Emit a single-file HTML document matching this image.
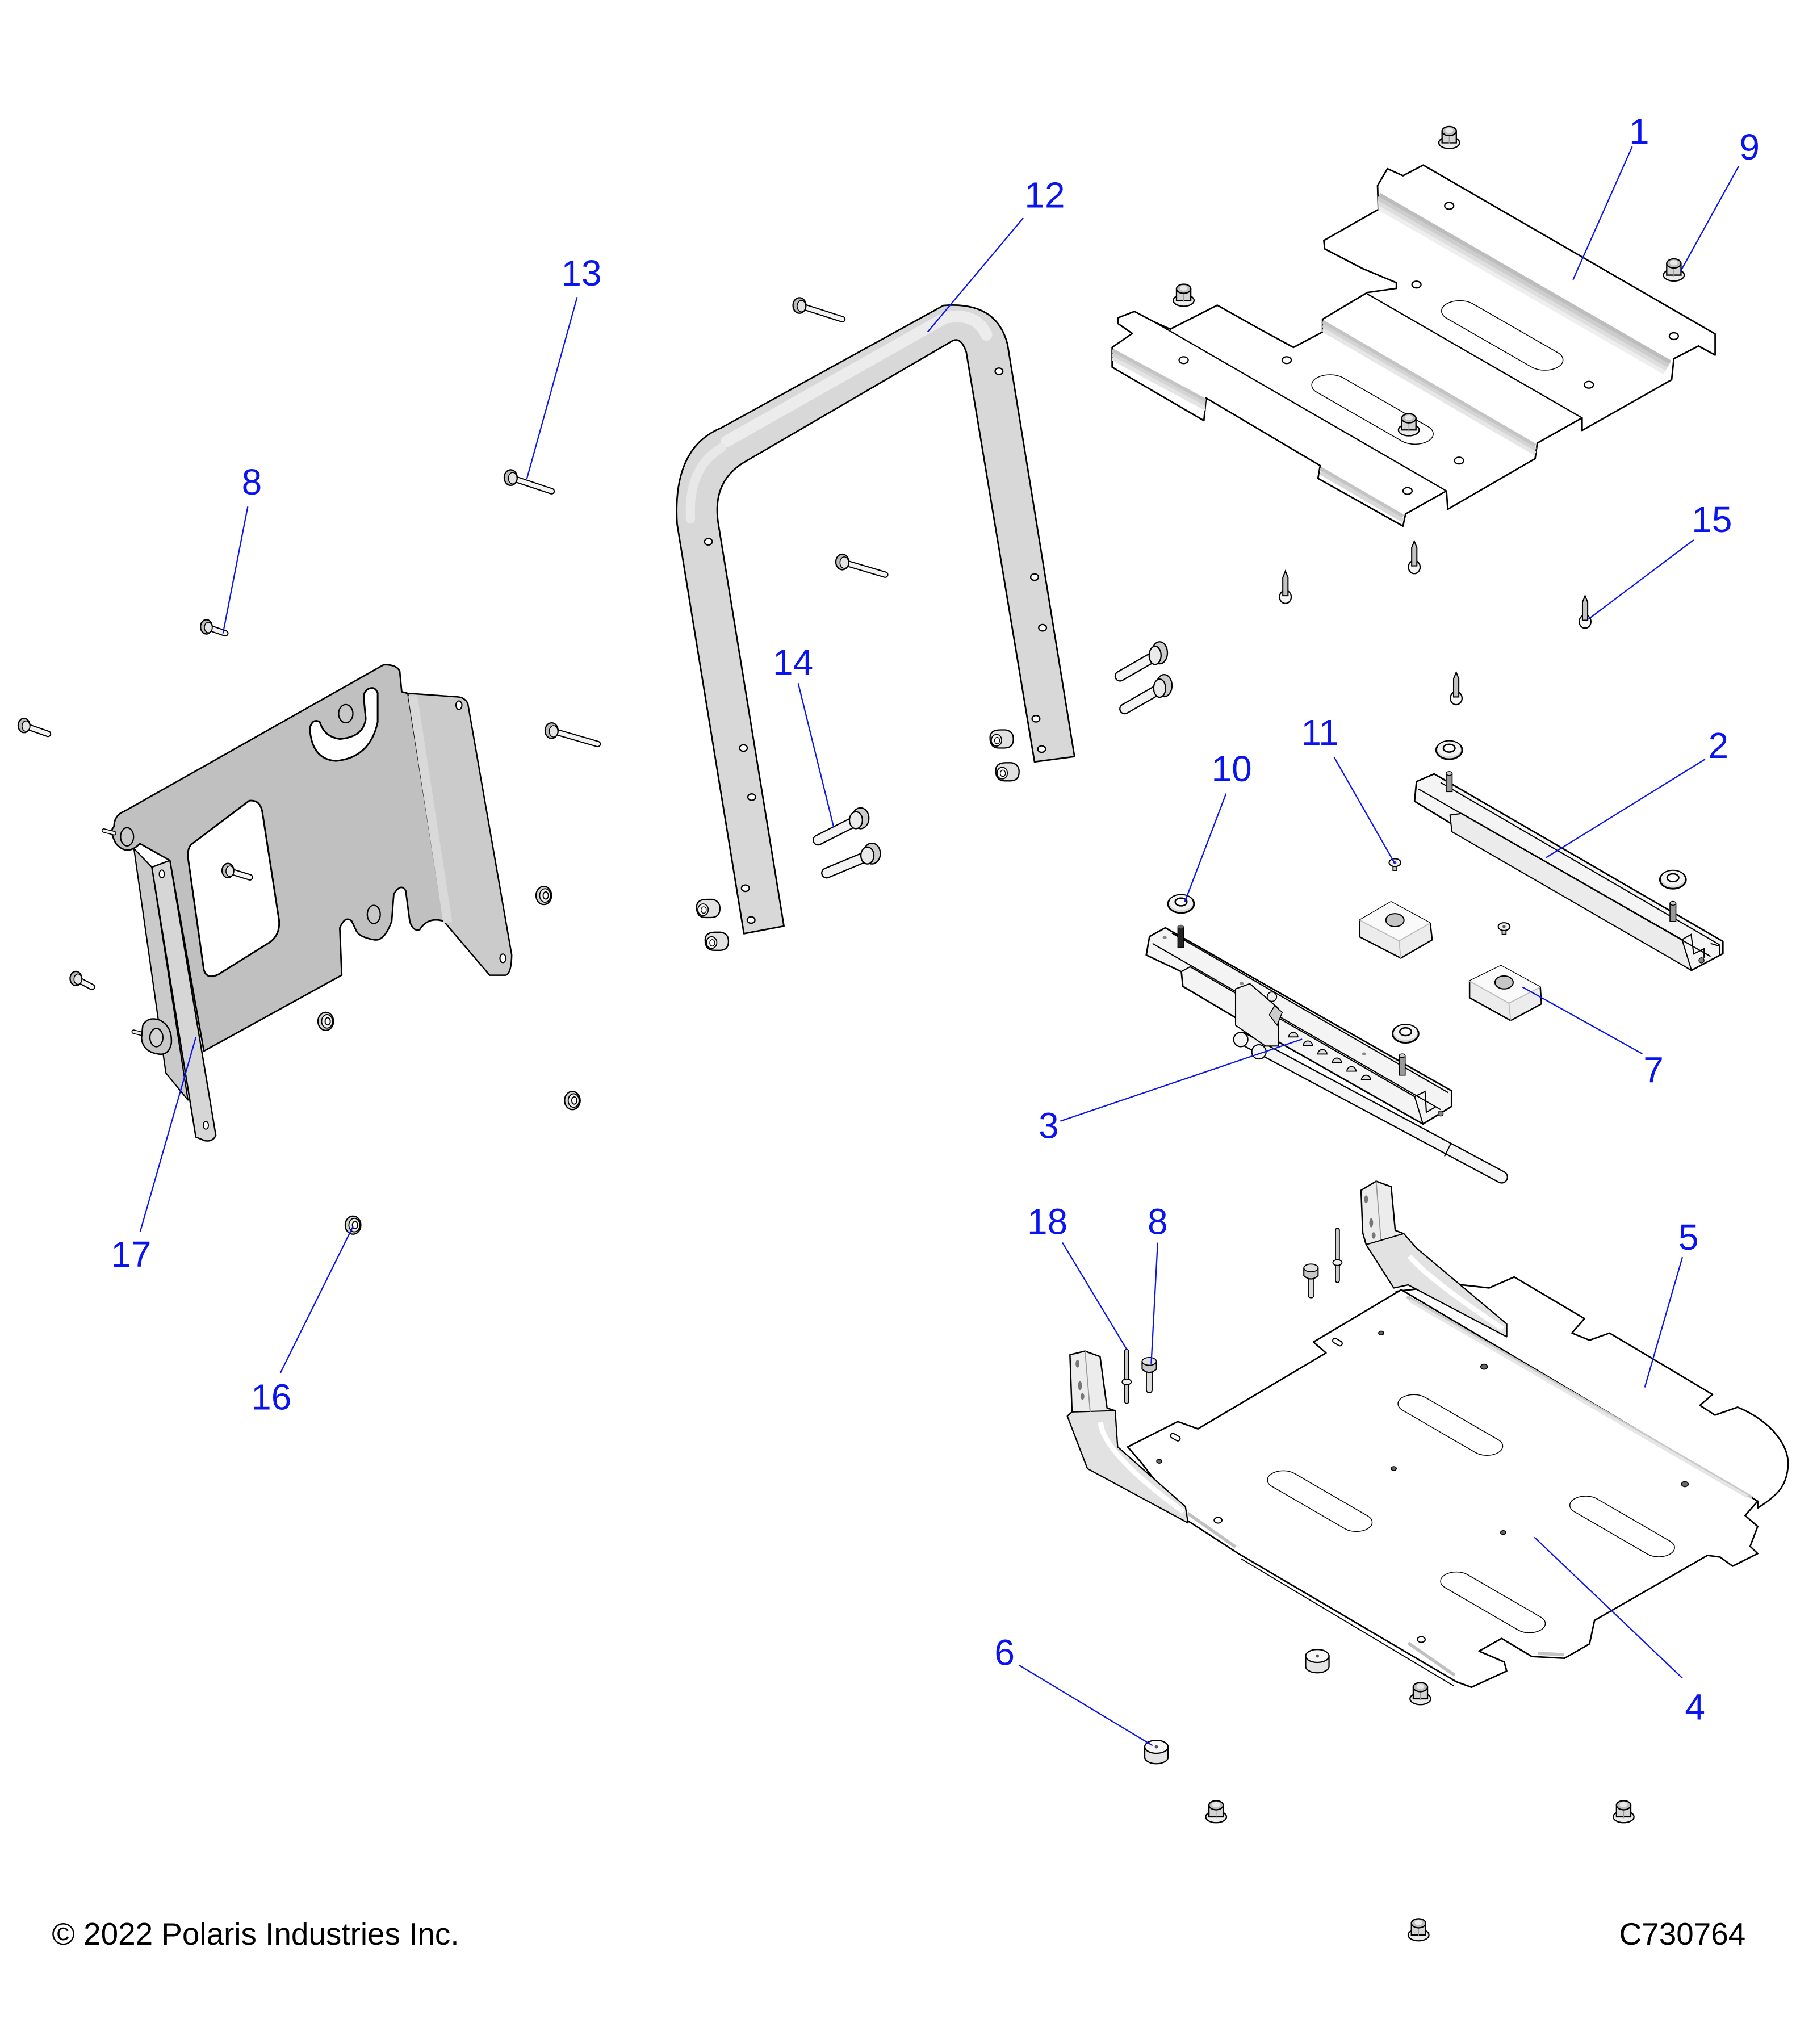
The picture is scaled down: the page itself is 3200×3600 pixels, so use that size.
<!DOCTYPE html>
<html><head><meta charset="utf-8"><style>html,body{margin:0;padding:0;background:#fff}svg{display:block}</style></head><body>
<svg xmlns="http://www.w3.org/2000/svg" xmlns:xlink="http://www.w3.org/1999/xlink" width="3200" height="3600" viewBox="0 0 1400 1575">
<defs>
<g id="fnut">
<ellipse cx="0" cy="5" rx="8" ry="4.5" fill="#ececec" stroke="#000" stroke-width="1"/>
<path d="M-5.5,5 L-5.5,-4 L5.5,-4 L5.5,5 Z" fill="#d4d4d4" stroke="#000" stroke-width="1"/>
<line x1="0" y1="-3" x2="0" y2="6" stroke="#999" stroke-width="0.6"/>
<ellipse cx="0" cy="-4" rx="5.5" ry="3.5" fill="#bdbdbd" stroke="#000" stroke-width="1"/>
<ellipse cx="0" cy="-4.5" rx="3" ry="2" fill="#e8e8e8"/>
</g>
<g id="rnut">
<ellipse rx="6" ry="7" fill="#d4d4d4" stroke="#000" stroke-width="1"/>
<ellipse cx="1" rx="4.2" ry="5.2" fill="#eee" stroke="#000" stroke-width="0.8"/>
<ellipse cx="1.5" rx="2" ry="2.8" fill="#fff" stroke="#000" stroke-width="0.8"/>
</g>
<g id="cnut">
<path d="M-8,-1 Q-8,-7 0,-7 L4,-7 Q10,-6 10,0 Q10,7 3,7 L-1,7 Q-8,7 -8,-1 Z" fill="#e2e2e2" stroke="#000" stroke-width="1"/>
<ellipse cx="-3" cy="1" rx="4" ry="4.5" fill="#f4f4f4" stroke="#000" stroke-width="0.8"/>
<ellipse cx="-2.5" cy="1.2" rx="2" ry="2.5" fill="#fff" stroke="#000" stroke-width="0.6"/>
</g>
<g id="washer">
<ellipse cx="0" cy="1" rx="10" ry="7" fill="#d8d8d8" stroke="#000" stroke-width="1.3"/>
<ellipse cx="0" cy="0" rx="9" ry="5.8" fill="#f2f2f2"/>
<ellipse cx="0" cy="-0.5" rx="4.5" ry="3" fill="#fff" stroke="#000" stroke-width="1.1"/>
</g>
<g id="pin">
<ellipse cx="0" cy="3" rx="4.5" ry="5" fill="#f6f6f6" stroke="#000" stroke-width="1"/>
<path d="M-2,2 L-2,-12 L0,-17 L2,-12 L2,2 Z" fill="#c4c4c4" stroke="#000" stroke-width="0.9"/>
</g>
<g id="screw">
<rect x="-1.5" y="0" width="3" height="6" fill="#ccc" stroke="#000" stroke-width="0.8"/>
<ellipse rx="4.5" ry="3" fill="#eee" stroke="#000" stroke-width="0.9"/>
<circle r="1.2" fill="#555"/>
</g>
<g id="bump">
<path d="M-9,-3 L-9,5 A9,5 0 0 0 9,5 L9,-3 Z" fill="#e4e4e4" stroke="#000" stroke-width="1"/>
<ellipse cy="-3" rx="9" ry="5" fill="#f8f8f8" stroke="#000" stroke-width="1"/>
<circle cy="-3" r="1.3" fill="#555"/>
</g>
</defs>
<rect width="1400" height="1575" fill="#fff"/>

<!-- ============ PLATE 1 ============ -->
<path id="p1" d="M1062,161.4 L1061.4,143 L1069,130 L1081,135.4 L1096.6,127.2 L1321.5,257.3 L1321.5,273.6 L1308.7,266.6 L1289.7,276.4 L1288,292.6 L1219,331.7 L1219,322 L1184.5,341.4 L1182.8,353.4 L1115.5,392.4 L1114.5,378.3 L1083,396 L1081,405.4 L1015.5,368.6 L1017.2,358.8 L929.3,306.7 L927.6,324.1 L856.9,282.9 L856.9,267.7 L872.4,256.9 L861.4,249.3 L861.4,244.9 L874.1,240 L889.6,248.2 L901.7,253.6 L937.9,235.2 L970.7,253.6 L996.6,267.7 L1019,255.8 L1019,246 L1053.5,225.4 L1075.9,222.2 L1075.9,217.8 L1050,207 L1020.7,191.8 L1020,185.3 Z" fill="#fff" stroke="#000" stroke-width="1.2" stroke-linejoin="round"/>
<clipPath id="c1"><path d="M1062,161.4 L1061.4,143 L1069,130 L1081,135.4 L1096.6,127.2 L1321.5,257.3 L1321.5,273.6 L1308.7,266.6 L1289.7,276.4 L1288,292.6 L1219,331.7 L1219,322 L1184.5,341.4 L1182.8,353.4 L1115.5,392.4 L1114.5,378.3 L1083,396 L1081,405.4 L1015.5,368.6 L1017.2,358.8 L929.3,306.7 L927.6,324.1 L856.9,282.9 L856.9,267.7 L872.4,256.9 L861.4,249.3 L861.4,244.9 L874.1,240 L889.6,248.2 L901.7,253.6 L937.9,235.2 L970.7,253.6 L996.6,267.7 L1019,255.8 L1019,246 L1053.5,225.4 L1075.9,222.2 L1075.9,217.8 L1050,207 L1020.7,191.8 L1020,185.3 Z"/></clipPath>
<g clip-path="url(#c1)" stroke-width="3.2" fill="none">
<line x1="1062.8" y1="150.1" x2="1287" y2="279.2" stroke="#bdbdbd"/>
<line x1="1061.3" y1="152.7" x2="1285.5" y2="281.8" stroke="#cdcdcd"/>
<line x1="1059.8" y1="155.3" x2="1284" y2="284.4" stroke="#dedede"/>
<line x1="1058.3" y1="157.9" x2="1282.5" y2="287" stroke="#eeeeee"/>
<line x1="1019" y1="248" x2="1183" y2="343.5" stroke="#c4c4c4"/>
<line x1="1019" y1="251" x2="1183" y2="346.5" stroke="#d4d4d4"/>
<line x1="1019" y1="254" x2="1183" y2="349.5" stroke="#e6e6e6"/>
<line x1="856.9" y1="270" x2="929.3" y2="309" stroke="#c4c4c4"/>
<line x1="856.9" y1="273" x2="929.3" y2="312" stroke="#d4d4d4"/>
<line x1="856.9" y1="276" x2="929.3" y2="315" stroke="#e4e4e4"/>
<line x1="1017.2" y1="361" x2="1081" y2="398" stroke="#c4c4c4"/>
<line x1="1017.2" y1="364" x2="1081" y2="401" stroke="#d8d8d8"/>
</g>
<g stroke="#000" stroke-width="1" fill="none">
<line x1="889.6" y1="248.2" x2="1114.5" y2="378.3"/>
<line x1="1053.5" y1="226.5" x2="1219" y2="322"/>
<line x1="1289.7" y1="276.4" x2="1308.7" y2="266.6"/>
</g>
<rect x="-49" y="-11.5" width="98" height="23" rx="11.5" ry="11.5" transform="matrix(0.87,0.5,0.873,-0.487,1157.5,258.5)" fill="#fff" stroke="#000" stroke-width="1.5" vector-effect="non-scaling-stroke"/>
<rect x="-49" y="-11.5" width="98" height="23" rx="11.5" ry="11.5" transform="matrix(0.87,0.5,0.873,-0.487,1057.5,315.5)" fill="#fff" stroke="#000" stroke-width="1.5" vector-effect="non-scaling-stroke"/>
<g fill="#fff" stroke="#000" stroke-width="1">
<ellipse cx="1116.6" cy="158.6" rx="3.5" ry="2.6"/>
<ellipse cx="1091.4" cy="219.3" rx="3.5" ry="2.6"/>
<ellipse cx="1289.7" cy="259" rx="3.5" ry="2.6"/>
<ellipse cx="1224.2" cy="296.5" rx="3.5" ry="2.6"/>
<ellipse cx="912" cy="277.5" rx="3.5" ry="2.6"/>
<ellipse cx="991.4" cy="277.5" rx="3.5" ry="2.6"/>
<ellipse cx="1124.2" cy="354.9" rx="3.5" ry="2.6"/>
<ellipse cx="1084.5" cy="378.3" rx="3.5" ry="2.6"/>
</g>
<use xlink:href="#fnut" href="#fnut" x="1116.6" y="105"/>
<use xlink:href="#fnut" href="#fnut" x="1289.7" y="207"/>
<use xlink:href="#fnut" href="#fnut" x="912" y="226.5"/>
<use xlink:href="#fnut" href="#fnut" x="1085.5" y="326.3"/>

<!-- push pins 15 -->
<use xlink:href="#pin" href="#pin" x="990.4" y="457"/>
<use xlink:href="#pin" href="#pin" x="1089.7" y="434"/>
<use xlink:href="#pin" href="#pin" x="1221.3" y="476"/>
<use xlink:href="#pin" href="#pin" x="1122" y="535"/>

<!-- ============ TUBE 12 ============ -->
<path d="M573.2,719.4 L521.7,403.8 Q518,345 555.7,329.7 L726.9,235.4 Q768,232 776.3,265.4 L827.9,583 L797.1,587 L744.5,271.3 Q740,258 732.4,263.5 L575.4,355 Q548,370 553.5,403.8 L604,713.6 Z" fill="#d8d8d8" stroke="#000" stroke-width="1.2" stroke-linejoin="round"/>
<path d="M560,340 L728,245 Q752,240 760,258" fill="none" stroke="#ececec" stroke-width="9" stroke-linecap="round"/>
<path d="M532,400 Q530,360 556,345" fill="none" stroke="#e8e8e8" stroke-width="7" stroke-linecap="round"/>
<g fill="#fff" stroke="#000" stroke-width="1">
<ellipse cx="545.8" cy="417.4" rx="3" ry="2.5"/>
<ellipse cx="572.8" cy="576.4" rx="3" ry="2.5"/>
<ellipse cx="579.2" cy="614.2" rx="3" ry="2.5"/>
<ellipse cx="574.3" cy="684.4" rx="3" ry="2.5"/>
<ellipse cx="578.7" cy="708.9" rx="3" ry="2.5"/>
<ellipse cx="769.7" cy="286.1" rx="3" ry="2.5"/>
<ellipse cx="797.1" cy="444.7" rx="3" ry="2.5"/>
<ellipse cx="803.3" cy="483.7" rx="3" ry="2.5"/>
<ellipse cx="798.2" cy="553.8" rx="3" ry="2.5"/>
<ellipse cx="802.6" cy="577.2" rx="3" ry="2.5"/>
</g>
<use xlink:href="#cnut" href="#cnut" x="770.8" y="569.4"/>
<use xlink:href="#cnut" href="#cnut" x="775.2" y="594.7"/>
<use xlink:href="#cnut" href="#cnut" x="544.7" y="700"/>
<use xlink:href="#cnut" href="#cnut" x="551.3" y="725.3"/>

<!-- ============ PLATE 17 ============ -->
<path d="M95.5,625.3 L295.7,512.2 Q306,512 308,517.4 L309.5,533 L314.2,534.3 L351.1,536.9 Q358,537 360.4,542.1 L394.2,735.8 Q394,750 389.6,751.4 L377.3,751.4 L341.9,709.8 Q330,706 323.4,716.3 Q318,718 315.7,709.8 L312.6,686.4 Q309,680 303.4,689 L301.8,709.8 Q296,726 288,724.1 Q276,722 274.1,716.3 L271,709.8 Q266,705 261.8,715 L263.3,751.4 L157.1,809.9 L130.9,663 L107.8,650 Q98,660 89.3,650 Q84,640 87.8,637 Q88,628 95.5,625.3 Z" fill="#c0c0c0" stroke="#000" stroke-width="1.2" stroke-linejoin="round"/>
<path d="M314.2,534.3 L351.1,536.9 Q358,537 360.4,542.1 L394.2,735.8 Q394,750 389.6,751.4 L377.3,751.4 L341.9,709.8 Z" fill="#cbcbcb" stroke="#000" stroke-width="1" stroke-linejoin="round"/>
<path d="M318,536 L345,711" stroke="#d9d9d9" stroke-width="7" fill="none"/>
<path d="M147,651 L192,617 Q200,616 202,625 L215,709 Q216,720 208,726 L168,751 Q159,755 157,747 L145,662 Q144,655 147,651 Z" fill="#fff" stroke="#000" stroke-width="1.3"/>
<path d="M238.7,561 Q240,585 258.7,586.3 Q285,584 291,556.4 L291,534 Q289,529 284.9,530.4 Q280,532 280.3,538 L281.8,553.8 Q280,568 262,569.4 Q250,568 246.4,556.4 Q241,553 238.7,561 Z" fill="#fff" stroke="#000" stroke-width="1.3"/>
<ellipse cx="266.4" cy="549.9" rx="5.5" ry="7" fill="#c8c8c8" stroke="#000" stroke-width="1"/>
<ellipse cx="288" cy="704.6" rx="5" ry="7" fill="#c8c8c8" stroke="#000" stroke-width="1"/>
<ellipse cx="97.9" cy="644.8" rx="5" ry="7" fill="#c8c8c8" stroke="#000" stroke-width="1"/>
<ellipse cx="353.6" cy="543.4" rx="2.3" ry="3.3" fill="#fff" stroke="#000" stroke-width="0.9"/>
<ellipse cx="387.5" cy="738.4" rx="2.3" ry="3.3" fill="#fff" stroke="#000" stroke-width="0.9"/>
<!-- bar -->
<path d="M103.2,653.9 L117,668.2 L144.8,847.6 L127.8,826.8 Z" fill="#cacaca" stroke="#000" stroke-width="1" stroke-linejoin="round"/>
<path d="M117,668.2 L130.9,663 L166.3,874.9 Q164,880 158,879 L150.9,876.2 Z" fill="#d6d6d6" stroke="#000" stroke-width="1.1" stroke-linejoin="round"/>
<ellipse cx="124.7" cy="673.4" rx="2" ry="3" fill="#fff" stroke="#000" stroke-width="0.8"/>
<ellipse cx="158.6" cy="867.1" rx="2" ry="3" fill="#fff" stroke="#000" stroke-width="0.8"/>
<line x1="80" y1="640" x2="88" y2="642" stroke="#000" stroke-width="3.4" stroke-linecap="round"/>
<line x1="80" y1="640" x2="88" y2="642" stroke="#eee" stroke-width="2" stroke-linecap="round"/>
<line x1="103" y1="795" x2="111" y2="797" stroke="#000" stroke-width="3.4" stroke-linecap="round"/>
<line x1="103" y1="795" x2="111" y2="797" stroke="#eee" stroke-width="2" stroke-linecap="round"/>
<path d="M110,790 Q114,783 123,786 Q133,791 132,804 Q130,814 121,812 Q110,810 109,800 Z" fill="#c8c8c8" stroke="#000" stroke-width="1.1"/>
<ellipse cx="120.5" cy="799.5" rx="5" ry="7" fill="#d4d4d4" stroke="#000" stroke-width="1"/>

<!-- small bolts -->
<g stroke-linecap="round">
<line x1="18.5" y1="559" x2="37" y2="565.5" stroke="#000" stroke-width="5"/><line x1="18.5" y1="559" x2="37" y2="565.5" stroke="#f2f2f2" stroke-width="3.2"/>
<line x1="159" y1="483" x2="173.6" y2="488" stroke="#000" stroke-width="5"/><line x1="159" y1="483" x2="173.6" y2="488" stroke="#f2f2f2" stroke-width="3.2"/>
<line x1="58.5" y1="754" x2="70.8" y2="760.5" stroke="#000" stroke-width="5"/><line x1="58.5" y1="754" x2="70.8" y2="760.5" stroke="#f2f2f2" stroke-width="3.2"/>
<line x1="175.6" y1="670.8" x2="192.5" y2="676" stroke="#000" stroke-width="5"/><line x1="175.6" y1="670.8" x2="192.5" y2="676" stroke="#f2f2f2" stroke-width="3.2"/>
<line x1="393.5" y1="368" x2="425" y2="378.5" stroke="#000" stroke-width="5"/><line x1="393.5" y1="368" x2="425" y2="378.5" stroke="#f2f2f2" stroke-width="3.2"/>
<line x1="425" y1="563" x2="460.5" y2="573.3" stroke="#000" stroke-width="5"/><line x1="425" y1="563" x2="460.5" y2="573.3" stroke="#f2f2f2" stroke-width="3.2"/>
<line x1="616" y1="235.4" x2="649" y2="246" stroke="#000" stroke-width="5"/><line x1="616" y1="235.4" x2="649" y2="246" stroke="#f2f2f2" stroke-width="3.2"/>
<line x1="649" y1="433" x2="682" y2="442.8" stroke="#000" stroke-width="5"/><line x1="649" y1="433" x2="682" y2="442.8" stroke="#f2f2f2" stroke-width="3.2"/>
</g>
<g stroke="#000">
<ellipse cx="18.5" cy="559" rx="4.5" ry="5.5" fill="#bbb" stroke-width="1"/><ellipse cx="20" cy="559.5" rx="3" ry="4" fill="#e4e4e4" stroke-width="0.7"/>
<ellipse cx="159" cy="483" rx="4.5" ry="5.5" fill="#bbb" stroke-width="1"/><ellipse cx="160.5" cy="483.5" rx="3" ry="4" fill="#e4e4e4" stroke-width="0.7"/>
<ellipse cx="58.5" cy="754" rx="4.5" ry="5.5" fill="#bbb" stroke-width="1"/><ellipse cx="60" cy="754.5" rx="3" ry="4" fill="#e4e4e4" stroke-width="0.7"/>
<ellipse cx="175.6" cy="670.8" rx="4.5" ry="5.5" fill="#bbb" stroke-width="1"/><ellipse cx="177.1" cy="671.3" rx="3" ry="4" fill="#e4e4e4" stroke-width="0.7"/>
<ellipse cx="393.5" cy="368" rx="5" ry="6" fill="#bbb" stroke-width="1"/><ellipse cx="395" cy="368.5" rx="3.3" ry="4.4" fill="#e4e4e4" stroke-width="0.7"/>
<ellipse cx="425" cy="563" rx="5" ry="6" fill="#bbb" stroke-width="1"/><ellipse cx="426.5" cy="563.5" rx="3.3" ry="4.4" fill="#e4e4e4" stroke-width="0.7"/>
<ellipse cx="616" cy="235.4" rx="5" ry="6" fill="#bbb" stroke-width="1"/><ellipse cx="617.5" cy="235.9" rx="3.3" ry="4.4" fill="#e4e4e4" stroke-width="0.7"/>
<ellipse cx="649" cy="433" rx="5" ry="6" fill="#bbb" stroke-width="1"/><ellipse cx="650.5" cy="433.5" rx="3.3" ry="4.4" fill="#e4e4e4" stroke-width="0.7"/>
</g>
<!-- thick bolts -->
<g stroke-linecap="round">
<line x1="661" y1="631.8" x2="630.3" y2="647.3" stroke="#000" stroke-width="8.5"/><line x1="661" y1="631.8" x2="630.3" y2="647.3" stroke="#f2f2f2" stroke-width="6.5"/>
<line x1="669.8" y1="659" x2="636.9" y2="672.7" stroke="#000" stroke-width="8.5"/><line x1="669.8" y1="659" x2="636.9" y2="672.7" stroke="#f2f2f2" stroke-width="6.5"/>
<line x1="891.5" y1="504.6" x2="863" y2="521" stroke="#000" stroke-width="8.5"/><line x1="891.5" y1="504.6" x2="863" y2="521" stroke="#f2f2f2" stroke-width="6.5"/>
<line x1="895" y1="529.9" x2="866.6" y2="546.2" stroke="#000" stroke-width="8.5"/><line x1="895" y1="529.9" x2="866.6" y2="546.2" stroke="#f2f2f2" stroke-width="6.5"/>
</g>
<g stroke="#000" stroke-width="1">
<ellipse cx="663" cy="630.5" rx="6.5" ry="8" fill="#ccc"/><ellipse cx="659.5" cy="632" rx="5" ry="6.5" fill="#eaeaea"/>
<ellipse cx="671.8" cy="657.7" rx="6.5" ry="8" fill="#ccc"/><ellipse cx="668.3" cy="659.2" rx="5" ry="6.5" fill="#eaeaea"/>
<ellipse cx="893.5" cy="503" rx="6" ry="8.5" fill="#ccc"/><ellipse cx="890" cy="505" rx="4.6" ry="7" fill="#eaeaea"/>
<ellipse cx="897" cy="528.3" rx="6" ry="8.5" fill="#ccc"/><ellipse cx="893.5" cy="530.3" rx="4.6" ry="7" fill="#eaeaea"/>
</g>
<!-- round nuts -->
<use xlink:href="#rnut" href="#rnut" x="419" y="690"/>
<use xlink:href="#rnut" href="#rnut" x="251" y="787"/>
<use xlink:href="#rnut" href="#rnut" x="441" y="848"/>
<use xlink:href="#rnut" href="#rnut" x="272" y="944"/>

<!-- ============ SLIDE 2 ============ -->
<path d="M1091.4,602.2 L1105,596.3 L1327.5,725.4 L1327.5,734.8 L1303.3,747.7 L1089.9,617.4 Z" fill="#f4f4f4" stroke="#000" stroke-width="1.2" stroke-linejoin="round"/>
<path d="M1117.2,628 L1126.2,626.8 L1296,724 L1303.3,747.7 L1118.7,640.9 Z" fill="#ebebeb" stroke="#000" stroke-width="0.9" stroke-linejoin="round"/>
<g stroke="#000" stroke-width="0.9" fill="none">
<line x1="1093" y1="608" x2="1318" y2="737"/>
<line x1="1110" y1="603" x2="1325" y2="728"/>
<path d="M1296,724 L1303,720 L1305,735 L1313,731 L1313,738"/>
<path d="M1318,727 L1325,729 L1325,736"/>
</g>
<rect x="1114.3" y="596" width="4.6" height="14" fill="#999" stroke="#000" stroke-width="0.7"/>
<ellipse cx="1116.6" cy="596" rx="2.3" ry="1.5" fill="#ccc" stroke="#000" stroke-width="0.6"/>
<rect x="1286.7" y="696" width="4.6" height="14" fill="#999" stroke="#000" stroke-width="0.7"/>
<ellipse cx="1289" cy="696" rx="2.3" ry="1.5" fill="#ccc" stroke="#000" stroke-width="0.6"/>
<circle cx="1311" cy="740" r="2" fill="#888" stroke="#000" stroke-width="0.6"/>
<use xlink:href="#washer" href="#washer" x="1116.6" y="577"/>
<use xlink:href="#washer" href="#washer" x="1289" y="676.8"/>

<!-- ============ SLIDE 3 ============ -->
<line x1="957" y1="800" x2="1157" y2="907" stroke="#000" stroke-width="10" stroke-linecap="round"/>
<line x1="957" y1="800" x2="1157" y2="907" stroke="#f4f4f4" stroke-width="8" stroke-linecap="round"/>
<line x1="1118" y1="881" x2="1113" y2="891" stroke="#000" stroke-width="0.9"/>
<path d="M897.9,714.9 L1118.4,840.5 L1118.4,852.6 L1096.4,866.1 L951.8,784 L911.4,760 L910.2,748.7 L883.2,735.9 L885.7,721.6 Z" fill="#f4f4f4" stroke="#000" stroke-width="1.2" stroke-linejoin="round"/>
<g stroke="#000" stroke-width="0.9" fill="none">
<line x1="888" y1="727" x2="1110" y2="855"/>
<line x1="903" y1="719" x2="1116" y2="842"/>
<path d="M910.2,748.7 L917,745 L1090,845 L1096.4,866.1"/>
<path d="M1090,845 L1098,841 L1099,857 L1106,853"/>
</g>
<path d="M952,762 L963,758 L985,777 L985,806 L975,806 L952,790 Z" fill="#efefef" stroke="#000" stroke-width="0.9"/>
<circle cx="980" cy="768" r="3.6" fill="#eee" stroke="#000" stroke-width="0.8"/>
<circle cx="956" cy="801" r="5.5" fill="#f4f4f4" stroke="#000" stroke-width="0.9"/>
<circle cx="970" cy="810.5" r="5.5" fill="#f4f4f4" stroke="#000" stroke-width="0.9"/>
<path d="M978,782 L982,775 L988,780 L984,790 Z" fill="#ccc" stroke="#000" stroke-width="0.7"/>
<g fill="#ddd" stroke="#000" stroke-width="0.8">
<path d="M993,799 a3.5,3.5 0 0 1 7,0 Z"/>
<path d="M1004.2,805.6 a3.5,3.5 0 0 1 7,0 Z"/>
<path d="M1015.4,812.2 a3.5,3.5 0 0 1 7,0 Z"/>
<path d="M1026.6,818.8 a3.5,3.5 0 0 1 7,0 Z"/>
<path d="M1037.8,825.4 a3.5,3.5 0 0 1 7,0 Z"/>
<path d="M1049,832 a3.5,3.5 0 0 1 7,0 Z"/>
</g>
<ellipse cx="956.7" cy="757.8" rx="1.6" ry="1.1" fill="#888"/>
<ellipse cx="1051" cy="812" rx="1.6" ry="1.1" fill="#888"/>
<ellipse cx="897.4" cy="722.4" rx="1.6" ry="1.1" fill="#888"/>
<rect x="907.5" y="714" width="4.6" height="16" fill="#222" stroke="#000" stroke-width="0.6"/>
<ellipse cx="909.8" cy="714" rx="2.3" ry="1.5" fill="#666"/>
<rect x="1078.1" y="813.5" width="4.6" height="15" fill="#9a9a9a" stroke="#000" stroke-width="0.7"/>
<ellipse cx="1080.4" cy="813.5" rx="2.3" ry="1.5" fill="#ccc" stroke="#000" stroke-width="0.6"/>
<circle cx="1110" cy="858" r="2" fill="#888" stroke="#000" stroke-width="0.6"/>
<use xlink:href="#washer" href="#washer" x="910" y="695.5"/>
<use xlink:href="#washer" href="#washer" x="1083" y="795.5"/>

<!-- blocks 7 -->
<path d="M1047.6,709 L1071.8,694.9 L1102,711.3 L1103.5,724.2 L1079.3,738.3 L1047.6,721.9 Z" fill="#ececec" stroke="#000" stroke-width="1.1" stroke-linejoin="round"/>
<path d="M1047.6,709 L1071.8,694.9 L1102,711.3 L1078,725 Z" fill="#fafafa" stroke="none"/>
<path d="M1047.6,709 L1078,725 L1102,711.3 M1078,725 L1079.3,738.3" stroke="#bbb" stroke-width="0.8" fill="none"/>
<ellipse cx="1074.8" cy="709" rx="7" ry="5" fill="#c6c6c6" stroke="#000" stroke-width="0.9"/>
<path d="M1132.3,755.9 L1156.5,744.1 L1186.8,760.6 L1187.7,773.5 L1164,786.4 L1132.3,768.8 Z" fill="#ececec" stroke="#000" stroke-width="1.1" stroke-linejoin="round"/>
<path d="M1132.3,755.9 L1156.5,744.1 L1186.8,760.6 L1162.6,773 Z" fill="#fafafa" stroke="none"/>
<path d="M1132.3,755.9 L1162.6,773 L1186.8,760.6 M1162.6,773 L1164,786.4" stroke="#bbb" stroke-width="0.8" fill="none"/>
<ellipse cx="1158.9" cy="757" rx="7" ry="5" fill="#c6c6c6" stroke="#000" stroke-width="0.9"/>
<use xlink:href="#screw" href="#screw" x="1074.8" y="664.7"/>
<use xlink:href="#screw" href="#screw" x="1158.9" y="714"/>

<!-- ============ PLATE 5 ============ -->
<path d="M1075.8,995.1 L1122.2,989.6 L1147.4,992.4 L1166.7,984 L1220.8,1016 L1211.2,1027.2 L1224.7,1032.7 L1240.2,1027.2 L1319.5,1074.5 L1309.8,1082.9 L1321.4,1090.4 L1338.8,1084.3 C1365,1095 1380,1115 1377.5,1131.6 C1376,1145 1370,1152 1354.3,1162 L1354.3,1156.7 Z" fill="#fff" stroke="#000" stroke-width="1.2" stroke-linejoin="round"/>
<!-- ============ PLATE 4 ============ -->
<path d="M1079.7,993.8 L1012,1034.1 L1021.7,1042.5 L923,1101 L907.5,1095.4 L868.9,1114.9 L878.5,1126 L913.3,1170.6 L954,1197 L1122.2,1295.9 L1133.8,1300.1 L1160.9,1287.6 L1159,1280.6 L1139.6,1272.3 L1157,1262.5 L1180.2,1276.4 L1205.4,1277.8 L1224.7,1266.7 L1228.6,1248.6 L1315.6,1198.5 L1325.3,1199.8 L1335,1206.8 L1354.3,1197.1 L1348.5,1191.5 L1354.3,1176.2 L1344.6,1167.8 L1354.3,1156.7 Z" fill="#fff" stroke="#000" stroke-width="1.2" stroke-linejoin="round"/>
<g stroke-width="2.5" fill="none">
<line x1="1084" y1="999" x2="1350" y2="1154" stroke="#c8c8c8"/>
<line x1="1086" y1="1002" x2="1346" y2="1153" stroke="#e6e6e6"/>
<line x1="915" y1="1166" x2="952" y2="1192" stroke="#c0c0c0"/>
<line x1="1085" y1="1266" x2="1121" y2="1291" stroke="#c0c0c0"/>
<line x1="1185" y1="1274" x2="1205" y2="1275" stroke="#c4c4c4"/>
</g>
<line x1="956" y1="1201" x2="1120" y2="1299" stroke="#000" stroke-width="0.8"/>
<rect x="-42.5" y="-10" width="85" height="20" rx="10" ry="10" transform="matrix(0.865,0.502,-0.865,0.501,1117.5,1098)" fill="#fff" stroke="#000" stroke-width="1.5" vector-effect="non-scaling-stroke"/>
<rect x="-42.5" y="-10" width="85" height="20" rx="10" ry="10" transform="matrix(0.865,0.502,-0.865,0.501,1016.9,1156.7)" fill="#fff" stroke="#000" stroke-width="1.5" vector-effect="non-scaling-stroke"/>
<rect x="-42.5" y="-10" width="85" height="20" rx="10" ry="10" transform="matrix(0.865,0.502,-0.865,0.501,1249.9,1176.2)" fill="#fff" stroke="#000" stroke-width="1.5" vector-effect="non-scaling-stroke"/>
<rect x="-42.5" y="-10" width="85" height="20" rx="10" ry="10" transform="matrix(0.865,0.502,-0.865,0.501,1150.3,1234.7)" fill="#fff" stroke="#000" stroke-width="1.5" vector-effect="non-scaling-stroke"/>
<g fill="#666" stroke="#000" stroke-width="0.7">
<ellipse cx="1064.2" cy="1027.2" rx="2" ry="1.5"/>
<ellipse cx="1143.5" cy="1053.1" rx="2.6" ry="2"/>
<ellipse cx="1073.9" cy="1131.6" rx="2" ry="1.5"/>
<ellipse cx="1298.2" cy="1143.6" rx="2.6" ry="2"/>
<ellipse cx="1158.2" cy="1180.9" rx="2" ry="1.5"/>
<ellipse cx="893.2" cy="1126" rx="2" ry="1.5"/>
</g>
<g fill="#fff" stroke="#000" stroke-width="0.9">
<ellipse cx="938.5" cy="1171.4" rx="3" ry="2.2"/>
<ellipse cx="1095.1" cy="1263.3" rx="3" ry="2.2"/>
<rect x="-4" y="-1.8" width="8" height="3.6" rx="1.8" transform="translate(1030.5,1034.1) rotate(30)"/>
<rect x="-4" y="-1.8" width="8" height="3.6" rx="1.8" transform="translate(905.6,1107.4) rotate(30)"/>
</g>
<!-- brackets -->
<path d="M824.4,1043.9 L836,1041.1 L847.6,1045.3 L853,1085 L859.2,1087 L861.1,1114.9 L913.3,1160.9 L915.3,1173.4 L837.9,1131.6 L822.4,1091.2 L826,1088 Z" fill="#ececec" stroke="#000" stroke-width="1.1" stroke-linejoin="round"/>
<path d="M826,1088 L822.4,1091.2 L837.9,1131.6 L915.3,1173.4 L913.3,1160.9 L861.1,1114.9 L859.2,1087 Z" fill="#e2e2e2" stroke="#000" stroke-width="0.9" stroke-linejoin="round"/>
<path d="M836,1041.1 L840,1088" stroke="#999" stroke-width="0.8" fill="none"/>
<path d="M848,1096 Q850,1120 912,1165" stroke="#fff" stroke-width="4" fill="none"/>
<g fill="#777"><ellipse cx="830.2" cy="1050.8" rx="1.5" ry="3"/><ellipse cx="832.1" cy="1067.6" rx="1.5" ry="3.5"/><ellipse cx="834" cy="1076" rx="1.5" ry="2.5"/></g>
<path d="M1048.7,917.2 L1060.3,910.2 L1071.9,914.4 L1075,948 L1081.6,950.6 L1091.3,961.7 L1160.9,1020.2 L1160.9,1030 L1085,990 L1073.9,992.4 L1052.6,959 L1050,950 Z" fill="#ececec" stroke="#000" stroke-width="1.1" stroke-linejoin="round"/>
<path d="M1052.6,959 L1081.6,950.6 L1091.3,961.7 L1160.9,1020.2 L1160.9,1030 L1085,990 L1073.9,992.4 Z" fill="#e2e2e2" stroke="#000" stroke-width="0.9" stroke-linejoin="round"/>
<path d="M1060.3,910.2 L1064,955" stroke="#999" stroke-width="0.8" fill="none"/>
<path d="M1086,968 Q1100,985 1158,1024" stroke="#fff" stroke-width="4" fill="none"/>
<g fill="#777"><ellipse cx="1052.6" cy="924.1" rx="1.5" ry="3"/><ellipse cx="1056.5" cy="942.2" rx="1.5" ry="3.5"/><ellipse cx="1058.4" cy="952" rx="1.5" ry="2.5"/></g>
<!-- rivets / bolts near brackets -->
<g stroke="#000">
<rect x="866.6" y="1039.7" width="3" height="41.8" rx="1.5" fill="#ccc" stroke-width="0.8"/>
<ellipse cx="868.1" cy="1064.8" rx="3.5" ry="2.2" fill="#eee" stroke-width="0.8"/>
<rect x="1029" y="946.4" width="3" height="41.8" rx="1.5" fill="#ccc" stroke-width="0.8"/>
<ellipse cx="1030.5" cy="972.9" rx="3.5" ry="2.2" fill="#eee" stroke-width="0.8"/>
<rect x="883.3" y="1053.6" width="4.4" height="19.5" rx="2" fill="#ddd" stroke-width="0.8"/>
<path d="M880,1049 L880,1055 Q885.5,1060 891,1055 L891,1049 Q885.5,1044 880,1049 Z" fill="#c8c8c8" stroke-width="0.9"/>
<ellipse cx="885.5" cy="1049" rx="5.5" ry="3" fill="#e0e0e0" stroke-width="0.8"/>
<rect x="1008" y="981" width="4.4" height="19" rx="2" fill="#ddd" stroke-width="0.8"/>
<path d="M1004.6,977 L1004.6,983 Q1010.1,988 1015.6,983 L1015.6,977 Q1010.1,972 1004.6,977 Z" fill="#c8c8c8" stroke-width="0.9"/>
<ellipse cx="1010.1" cy="977" rx="5.5" ry="3" fill="#e0e0e0" stroke-width="0.8"/>
</g>
<!-- bottom parts -->
<use xlink:href="#bump" href="#bump" x="891" y="1349"/>
<use xlink:href="#bump" href="#bump" x="1015" y="1279"/>
<use xlink:href="#fnut" href="#fnut" x="1094.4" y="1304"/>
<use xlink:href="#fnut" href="#fnut" x="937" y="1395"/>
<use xlink:href="#fnut" href="#fnut" x="1251" y="1395"/>
<use xlink:href="#fnut" href="#fnut" x="1093" y="1486"/>

<!-- ============ LEADERS ============ -->
<g stroke="#0a14f0" stroke-width="1" fill="none">
<line x1="1257.6" y1="113" x2="1212" y2="215.6"/>
<line x1="1339.7" y1="128" x2="1294.9" y2="209"/>
<line x1="788.4" y1="168" x2="714.8" y2="255.7"/>
<line x1="444.7" y1="229" x2="405.9" y2="369"/>
<line x1="190.9" y1="390.4" x2="171.8" y2="488"/>
<line x1="1305" y1="416" x2="1224" y2="477"/>
<line x1="615" y1="526.5" x2="642.4" y2="637.6"/>
<line x1="1027.9" y1="583.4" x2="1074.8" y2="665.5"/>
<line x1="1313.8" y1="585" x2="1191.3" y2="660.8"/>
<line x1="944.7" y1="611.5" x2="912.9" y2="694.9"/>
<line x1="1265.4" y1="812" x2="1173.1" y2="760.6"/>
<line x1="817" y1="863.9" x2="1003.3" y2="800.7"/>
<line x1="108" y1="949" x2="151" y2="799"/>
<line x1="818.6" y1="957.5" x2="868.1" y2="1039.7"/>
<line x1="892" y1="957.5" x2="887" y2="1050.8"/>
<line x1="1296.3" y1="968.7" x2="1267.3" y2="1069"/>
<line x1="216" y1="1058" x2="272" y2="945"/>
<line x1="1296.3" y1="1293.1" x2="1182.2" y2="1184.5"/>
<line x1="785" y1="1283" x2="888" y2="1345"/>
</g>

<!-- ============ LABELS ============ -->
<g font-family="'Liberation Sans', Arial, sans-serif" font-size="28" fill="#0a14f0" text-anchor="middle">
<text x="1263" y="111">1</text>
<text x="1348" y="123">9</text>
<text x="805" y="160">12</text>
<text x="448" y="220">13</text>
<text x="194" y="381">8</text>
<text x="1319" y="410">15</text>
<text x="611" y="520">14</text>
<text x="1017" y="574">11</text>
<text x="1324" y="584">2</text>
<text x="949" y="602">10</text>
<text x="1274" y="834">7</text>
<text x="808" y="877">3</text>
<text x="807" y="951">18</text>
<text x="892" y="951">8</text>
<text x="1301" y="963">5</text>
<text x="101" y="976">17</text>
<text x="209" y="1086">16</text>
<text x="774" y="1283">6</text>
<text x="1306" y="1325">4</text>
</g>
<g font-family="'Liberation Sans', Arial, sans-serif" font-size="24" fill="#000">
<text x="40" y="1498.5">© 2022 Polaris Industries Inc.</text>
<text x="1345" y="1498.5" text-anchor="end">C730764</text>
</g>
</svg>
</body></html>
